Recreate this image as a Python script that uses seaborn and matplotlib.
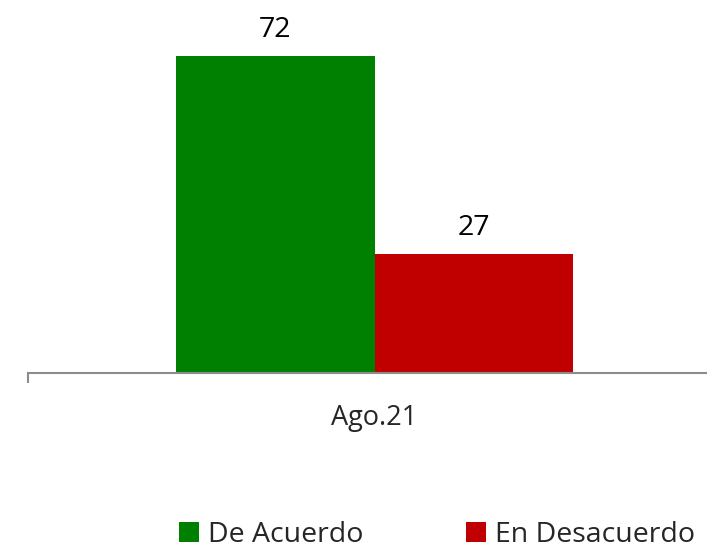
import matplotlib
matplotlib.use("Agg")
import matplotlib.pyplot as plt
import pandas as pd
import seaborn as sns
from matplotlib.patches import Patch

periodos = ["Ago.21", "Ago.21"]
respuestas = ["De Acuerdo", "En Desacuerdo"]
valores = [72, 27]
colores = ["#008000", "#C00000"]

df = pd.DataFrame({"periodo": periodos, "respuesta": respuestas, "valor": valores})

sns.set_theme(style="white")
plt.rcParams["font.family"] = ["Open Sans", "DejaVu Sans"]

fig = plt.figure(figsize=(7.07, 5.48), dpi=100)
ax = fig.add_axes([28 / 707, 1 - 373 / 548, 693 / 707, 352 / 548])

sns.barplot(data=df, x="periodo", y="valor", hue="respuesta",
            palette=colores, width=0.573, saturation=1, ax=ax,
            legend=False, linewidth=0)

ax.set_ylim(0, 80)
ax.set_xlim(-0.5, 0.5)
for c in ax.containers:
    ax.bar_label(c, fmt="%d", padding=9, fontsize=20.5, color="black")

for s in ["top", "right", "left"]:
    ax.spines[s].set_visible(False)
ax.spines["bottom"].set_color("#8c8c8c")
ax.spines["bottom"].set_linewidth(1.5)
ax.set_yticks([])
ax.set_xlabel("")
ax.set_ylabel("")
ax.set_xticks([0])
ax.set_xticklabels(["Ago.21"], fontsize=19.5)
ax.tick_params(axis="x", which="major", bottom=True, length=0, pad=22)
ax.set_xticks([-0.5, 0.5], minor=True)
ax.tick_params(axis="x", which="minor", bottom=True, length=7, width=1.5,
               color="#8c8c8c", direction="out")

handles = [Patch(facecolor=col, edgecolor="none") for col in colores]
fig.legend(handles, respuestas, loc="center", bbox_to_anchor=(0.618, 1 - 535 / 548),
           ncol=2, frameon=False, fontsize=20.5, handlelength=0.72,
           handleheight=0.72, handletextpad=0.3, columnspacing=3.6,
           borderpad=0, borderaxespad=0)

fig.savefig("out.png", dpi=100)
